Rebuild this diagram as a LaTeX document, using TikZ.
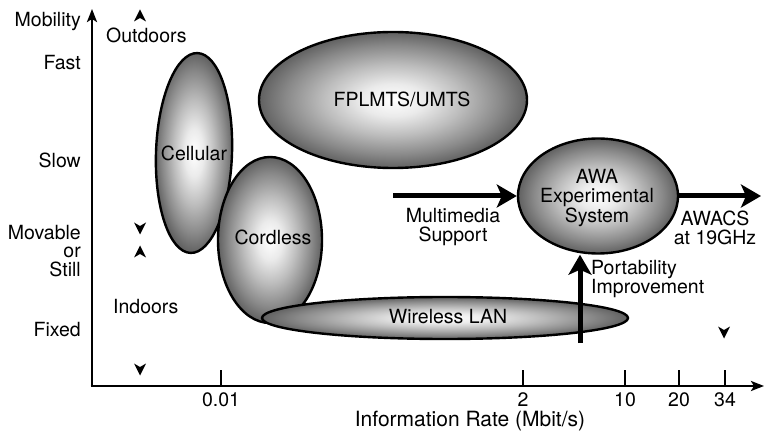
\documentclass[tikz,border=0pt]{standalone}
\usepackage{fontspec}
\setmainfont{TeX Gyre Heros}
\usetikzlibrary{arrows.meta,shapes.geometric}

% light centre, darker rim; radius 25bp lands on the ellipse outline
\pgfdeclareradialshading{rimshade}{\pgfpoint{0bp}{0bp}}{%
  color(0bp)=(white);
  color(6bp)=(black!8);
  color(13bp)=(black!26);
  color(20bp)=(black!46);
  color(25bp)=(black!62);
  color(50bp)=(black!62)}

\tikzset{
  txt/.style={font=\fontsize{19.5}{19}\selectfont, inner sep=0pt, align=center},
  ylab/.style={txt, anchor=east, align=right},
  region/.style={ellipse, draw=black, line width=2.4pt, shading=rimshade, inner sep=0pt},
  axis/.style={line width=2.8pt, -{Stealth[length=13pt,width=10pt,inset=3pt]}},
  tick/.style={line width=2.4pt},
  bigarrow/.style={line width=5pt, -{Stealth[length=20pt,width=23pt,inset=5pt]}},
  upmk/.pic={\fill (0,-6.5) -- (6,5.5) -- (0,2) -- (-6,5.5) -- cycle;},
  downmk/.pic={\fill (0,6.5) -- (6,-5.5) -- (0,-2) -- (-6,-5.5) -- cycle;}
}

\begin{document}
\begin{tikzpicture}[x=1pt,y=-1pt]
\useasboundingbox (0,0) rectangle (765,435);

% axes
\coordinate (orig) at (92,386);
\coordinate (ytop) at (92,9);
\coordinate (xend) at (764,386);
\draw[axis] (orig) -- (ytop);
\draw[axis] ([xshift=-1.4pt]orig) -- (xend);

% mobility scale
\node[txt, anchor=east] (mob) at (81,22) {Mobility};
\node[ylab] (fast) at (81,63) {Fast};
\node[ylab] (slow) at (81,160) {Slow};
\node[ylab, font=\fontsize{19.5}{18.5}\selectfont] (still) at (81,251) {Movable\\or\\Still};
\node[ylab] (fixed) at (81,330) {Fixed};

% outdoor / indoor ranges
\pic at (140,16) {upmk};
\node[txt, anchor=west] (outd) at (106,35) {Outdoors};
\pic at (140,228) {downmk};
\pic at (140,252) {upmk};
\node[txt, anchor=west] (ind) at (113,307) {Indoors};
\pic at (140,369) {downmk};
\pic at (724,332) {downmk};

% rate scale
\foreach \x/\l in {221/0.01, 523/2, 625/10, 679/20, 725/34}{
  \draw[tick] (\x,386) -- (\x,370);
  \node[txt] at (\x,400) {\l};
}
\node[txt, font=\fontsize{21}{21}\selectfont] (xlab) at (470,421) {Information Rate (Mbit/s)};

% system regions
\node[region, minimum width=268pt, minimum height=136pt] (umts) at (393,100) {};
\node[txt] at (402,99) {FPLMTS/UMTS};
\node[region, minimum width=76pt, minimum height=200pt, rotate=-2] (cell) at (194,153) {};
\node[txt] at (194,153) {Cellular};
\node[region, minimum width=104pt, minimum height=166pt] (cord) at (270,240) {};
\node[txt] at (273,237) {Cordless};
\node[region, minimum width=366pt, minimum height=42pt] (wlan) at (445,318) {};
\node[txt] at (448,317) {Wireless LAN};
\node[region, minimum width=160pt, minimum height=115pt] (awa) at (598,196) {};
\node[txt, font=\fontsize{19.5}{18.5}\selectfont] at (597,198) {AWA\\Experimental\\System};

% evolution arrows
\coordinate (mmstart) at (393,196);
\coordinate (awacsend) at (761,196);
\coordinate (portstart) at (580,343);
\draw[bigarrow] (mmstart) -- (awa.west);
\draw[bigarrow] (awa.east) -- (awacsend);
\draw[bigarrow] (portstart) -- (portstart |- awa.south);

\node[txt] (mm) at (453,227) {Multimedia\\Support};
\node[txt] (awacs) at (715,228) {AWACS\\at 19GHz};
\node[txt, anchor=west, align=left] (port) at (591,279) {Portability\\Improvement};
\end{tikzpicture}
\end{document}
